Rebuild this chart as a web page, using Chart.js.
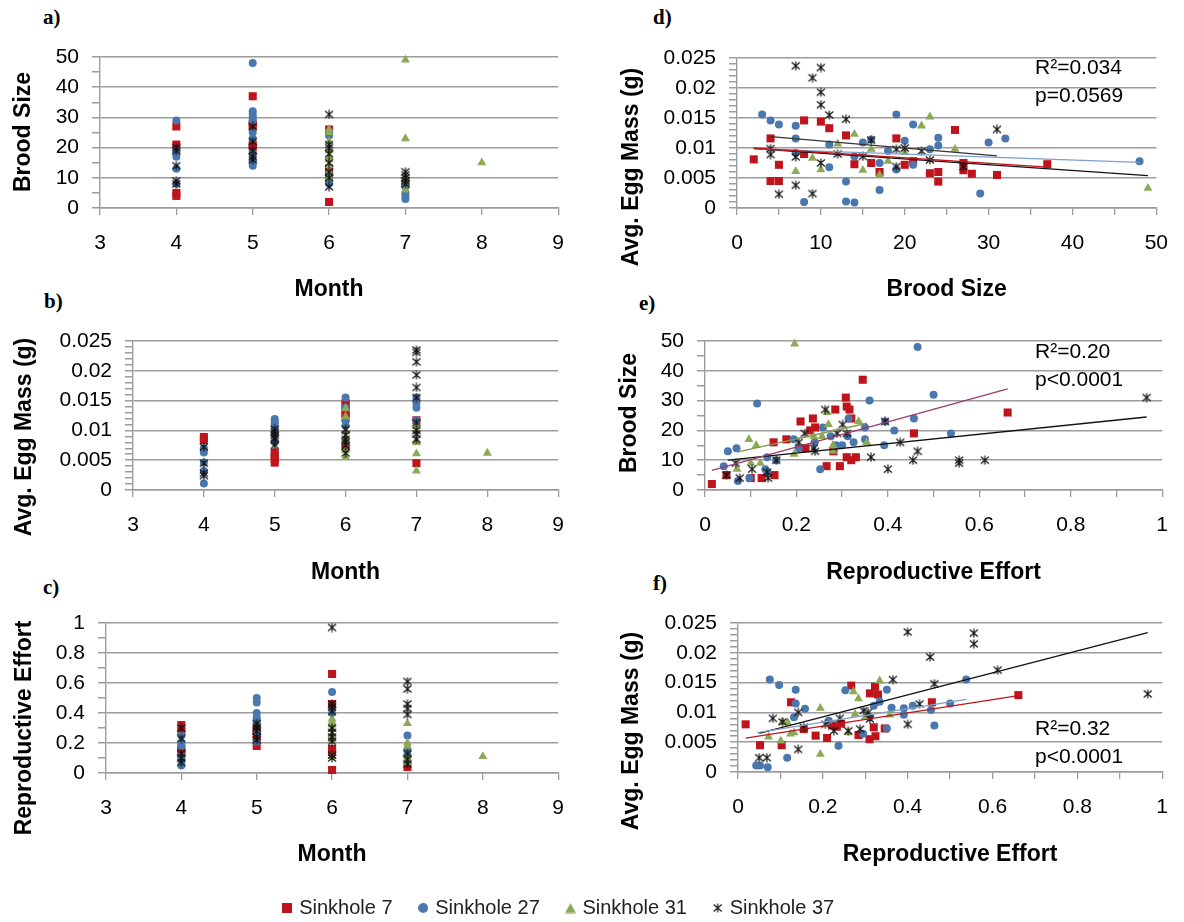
<!DOCTYPE html>
<html>
<head>
<meta charset="utf-8">
<script src="https://cdn.jsdelivr.net/npm/chart.js@4.4.1/dist/chart.umd.min.js"></script>
<style>
  body { margin: 0; background: #fff; width: 1184px; height: 922px; position: relative; overflow: hidden; }
  .pan { position: absolute; }
  .lab { position: absolute; font: bold 21px 'Liberation Serif', 'Times New Roman', serif; color: #000; line-height: 1; }
</style>
</head>
<body>
<div class="lab" style="left:43px;top:7px">a)</div>
<div class="lab" style="left:44px;top:291px">b)</div>
<div class="lab" style="left:43px;top:577px">c)</div>
<div class="lab" style="left:653px;top:7px">d)</div>
<div class="lab" style="left:639px;top:293px">e)</div>
<div class="lab" style="left:653px;top:573px">f)</div>
<script>
// ===== series names / colours =====
const SERIES = ['Sinkhole 7', 'Sinkhole 27', 'Sinkhole 31', 'Sinkhole 37'];
const COLS = ['#c0141c', '#4a78ae', '#8caa56', '#111111'];

// ===== panel a: Month vs Brood Size =====
const a_s7  = [[4,27],[4,21],[4,5],[4,4],[5,37],[5,28],[5,27],[5,21],[5,20],[6,26],[6,13],[6,11],[6,2],[7,8]];
const a_s27 = [[4,29],[4,19],[4,18],[4,17],[4,13],[4,8],[5,48],[5,32],[5,31],[5,30],[5,29],[5,25],[5,23],[5,18],[5,16],[5,15],[5,14],[6,25],[6,24],[6,11],[6,9],[6,8],[7,7],[7,5],[7,4],[7,3]];
const a_s31 = [[6,26],[6,25],[6,22],[6,19],[6,17],[6,16],[6,14],[6,12],[6,10],[7,49],[7,23],[7,10],[7,9],[7,6],[8,15]];
const a_s37 = [[4,20],[4,19],[4,14],[4,9],[4,8],[5,27],[5,22],[5,19],[5,17],[5,16],[6,31],[6,21],[6,20],[6,18],[6,15],[6,12],[6,10],[6,7],[7,12],[7,11],[7,10],[7,9],[7,8]];

// ===== panel b: Month vs Avg. Egg Mass =====
const b_s7  = [[4,0.0089],[4,0.0084],[5,0.0063],[5,0.0058],[5,0.0052],[5,0.0046],[6,0.0146],[6,0.0143],[6,0.0133],[6,0.0129],[6,0.0121],[6,0.0073],[7,0.0117],[7,0.0045]];
const b_s27 = [[4,0.0070],[4,0.0063],[4,0.0046],[4,0.0032],[4,0.0011],[5,0.0119],[5,0.0115],[5,0.0111],[5,0.0105],[5,0.0095],[5,0.0080],[6,0.0155],[6,0.0138],[6,0.0116],[6,0.0108],[7,0.0155],[7,0.0146],[7,0.0138],[7,0.0117]];
const b_s31 = [[6,0.0137],[6,0.0123],[6,0.0098],[6,0.0087],[6,0.0078],[6,0.0066],[6,0.0055],[7,0.0107],[7,0.0098],[7,0.0083],[7,0.0080],[7,0.0061],[7,0.0032],[8,0.0062]];
const b_s37 = [[4,0.0072],[4,0.0045],[4,0.0028],[4,0.0024],[5,0.0102],[5,0.0097],[5,0.0092],[5,0.0088],[5,0.0085],[5,0.0075],[6,0.0102],[6,0.0092],[6,0.0085],[6,0.0080],[6,0.0075],[6,0.0062],[7,0.0235],[7,0.0231],[7,0.0215],[7,0.0193],[7,0.0172],[7,0.0155],[7,0.0113],[7,0.0100],[7,0.0094],[7,0.0085]];

// ===== panel c: Month vs Reproductive Effort =====
const c_s7  = [[4,0.32],[4,0.28],[4,0.16],[4,0.14],[5,0.29],[5,0.26],[5,0.25],[5,0.18],[6,0.66],[6,0.46],[6,0.16],[6,0.14],[6,0.02],[7,0.04]];
const c_s27 = [[4,0.25],[4,0.20],[4,0.18],[4,0.11],[4,0.08],[4,0.05],[5,0.50],[5,0.47],[5,0.40],[5,0.37],[5,0.35],[5,0.27],[5,0.21],[6,0.54],[6,0.40],[7,0.25],[7,0.15],[7,0.12]];
const c_s31 = [[6,0.36],[6,0.34],[6,0.32],[6,0.29],[6,0.25],[6,0.22],[6,0.11],[7,0.33],[7,0.20],[7,0.18],[7,0.10],[7,0.07],[8,0.11]];
const c_s37 = [[4,0.30],[4,0.23],[4,0.13],[4,0.10],[4,0.07],[5,0.33],[5,0.31],[5,0.30],[5,0.28],[5,0.24],[5,0.22],[6,0.97],[6,0.46],[6,0.44],[6,0.41],[6,0.30],[6,0.27],[6,0.24],[6,0.21],[6,0.12],[6,0.10],[7,0.61],[7,0.56],[7,0.46],[7,0.43],[7,0.39],[7,0.13],[7,0.09],[7,0.06]];

// ===== panel d: Brood Size vs Avg. Egg Mass =====
const d_s7  = [[2,0.0081],[4,0.0116],[4,0.0045],[5,0.0045],[5,0.0072],[8,0.0146],[8,0.0090],[10,0.0144],[11,0.0133],[13,0.0121],[14,0.0073],[16,0.0075],[17,0.0060],[19,0.0116],[20,0.0072],[21,0.0078],[23,0.0058],[24,0.0060],[24,0.0044],[26,0.0130],[27,0.0075],[27,0.0063],[28,0.0057],[31,0.0055],[37,0.0073]];
const d_s27 = [[3,0.0156],[4,0.0146],[5,0.0139],[7,0.0137],[7,0.0116],[7,0.0092],[8,0.0010],[11,0.0068],[11,0.0106],[13,0.0044],[13,0.0011],[14,0.0009],[14,0.0086],[15,0.0109],[16,0.0114],[17,0.0030],[17,0.0075],[18,0.0095],[19,0.0156],[19,0.0064],[20,0.0112],[21,0.0139],[21,0.0072],[23,0.0098],[24,0.0117],[24,0.0104],[29,0.0024],[30,0.0109],[32,0.0116],[48,0.0078]];
const d_s31 = [[7,0.0061],[9,0.0083],[10,0.0064],[12,0.0107],[14,0.0123],[15,0.0063],[16,0.0098],[17,0.0055],[18,0.0078],[20,0.0093],[22,0.0137],[23,0.0152],[26,0.0098],[49,0.0033]];
const d_s37 = [[7,0.0237],[10,0.0234],[9,0.0217],[10,0.0193],[10,0.0172],[11,0.0155],[13,0.0148],[4,0.0099],[4,0.0089],[7,0.0085],[7,0.0038],[5,0.0023],[9,0.0024],[10,0.0075],[12,0.0090],[15,0.0086],[16,0.0113],[19,0.0098],[19,0.0069],[20,0.0100],[22,0.0095],[23,0.0080],[27,0.0069],[31,0.0131]];
// trend lines: [x1, y1, x2, y2]
const d_trend_all = [2, 0.0099, 49, 0.0054];
const d_trend_s7  = [2, 0.0100, 37, 0.0068];
const d_trend_s27 = [3, 0.0098, 48, 0.0076];
const d_trend_s37 = [4, 0.0119, 31, 0.0087];

// ===== panel e: Reproductive Effort vs Brood Size =====
const e_s7  = [[0.015,2],[0.047,5],[0.10,4],[0.124,4],[0.152,5],[0.15,16],[0.178,17],[0.209,23],[0.236,24],[0.241,21],[0.23,20],[0.22,14],[0.266,8],[0.285,27],[0.281,13],[0.295,8],[0.308,31],[0.31,28],[0.316,27],[0.32,24],[0.31,11],[0.32,10],[0.33,11],[0.345,37],[0.457,19],[0.662,26]];
const e_s27 = [[0.041,8],[0.05,13],[0.069,14],[0.072,3],[0.097,4],[0.114,29],[0.132,7],[0.136,11],[0.136,6],[0.156,10],[0.194,17],[0.205,14],[0.24,16],[0.252,7],[0.258,21],[0.275,18],[0.287,15],[0.30,15],[0.312,18],[0.314,24],[0.325,16],[0.35,21],[0.35,17],[0.36,30],[0.392,15],[0.394,23],[0.414,20],[0.457,24],[0.465,48],[0.50,32],[0.538,19]];
const e_s31 = [[0.196,49],[0.07,7],[0.096,17],[0.112,15],[0.10,9],[0.121,9],[0.195,12],[0.238,18],[0.256,18],[0.267,26],[0.27,22],[0.28,15],[0.28,13],[0.336,23],[0.354,16]];
const e_s37 = [[0.047,5],[0.067,9],[0.076,4],[0.103,7],[0.136,6],[0.138,4],[0.156,10],[0.205,16],[0.218,19],[0.238,14],[0.241,13],[0.263,27],[0.289,19],[0.301,22],[0.31,19],[0.363,11],[0.394,23],[0.40,7],[0.427,16],[0.455,10],[0.465,13],[0.556,10],[0.556,9],[0.612,10],[0.966,31]];
const e_trend_s7  = [0.015, 6.6, 0.662, 33.9];
const e_trend_s31 = [0.07, 12.7, 0.354, 22.4];
const e_trend_s37 = [0.05, 10.0, 0.966, 24.5];

// ===== panel f: Reproductive Effort vs Avg. Egg Mass =====
const f_s7  = [[0.018,0.0080],[0.052,0.0045],[0.103,0.0045],[0.125,0.0117],[0.155,0.0072],[0.183,0.0061],[0.21,0.0057],[0.222,0.0078],[0.233,0.0076],[0.243,0.0081],[0.267,0.0145],[0.284,0.0062],[0.31,0.0055],[0.311,0.0132],[0.323,0.0143],[0.33,0.0130],[0.32,0.0075],[0.324,0.0060],[0.346,0.0073],[0.457,0.0117],[0.661,0.0129]];
const f_s27 = [[0.043,0.0011],[0.052,0.0011],[0.07,0.0008],[0.075,0.0155],[0.097,0.0146],[0.116,0.0024],[0.136,0.0138],[0.136,0.0115],[0.132,0.0092],[0.158,0.0106],[0.214,0.0086],[0.237,0.0044],[0.253,0.0137],[0.295,0.0064],[0.31,0.0092],[0.32,0.0111],[0.334,0.0118],[0.351,0.0138],[0.351,0.0073],[0.362,0.0108],[0.391,0.0107],[0.391,0.0096],[0.412,0.0111],[0.455,0.0104],[0.463,0.0078],[0.50,0.0115],[0.538,0.0155]];
const f_s31 = [[0.072,0.0059],[0.101,0.0052],[0.105,0.0084],[0.117,0.0083],[0.124,0.0064],[0.132,0.0066],[0.194,0.0030],[0.194,0.0107],[0.26,0.0066],[0.272,0.0135],[0.284,0.0123],[0.276,0.0097],[0.30,0.0092],[0.334,0.0153],[0.358,0.0096]];
const f_s37 = [[0.05,0.0024],[0.068,0.0024],[0.082,0.0090],[0.105,0.0084],[0.142,0.0100],[0.142,0.0038],[0.155,0.0075],[0.206,0.0080],[0.226,0.0069],[0.24,0.0090],[0.26,0.0069],[0.288,0.0072],[0.296,0.0103],[0.307,0.0100],[0.311,0.0089],[0.365,0.0155],[0.40,0.0235],[0.40,0.0080],[0.428,0.0114],[0.453,0.0193],[0.463,0.0148],[0.556,0.0233],[0.556,0.0215],[0.612,0.0171],[0.966,0.0131]];
const f_trend_s7  = [0.018, 0.0057, 0.661, 0.0128];
const f_trend_s27 = [0.045, 0.0066, 0.538, 0.0122];
const f_trend_s37 = [0.05, 0.0065, 0.966, 0.0234];

// ===== stats text =====
const d_stats = ['R²=0.034', 'p=0.0569'];
const e_stats = ['R²=0.20', 'p<0.0001'];
const f_stats = ['R²=0.32', 'p<0.0001'];

// ================= STYLE =================
const FONT = "'Liberation Sans', Arial, sans-serif";
const GRID = '#9c9c9c';

// marker gambar kecil (bintang ala Excel + ikon legend)
function makeMarker(kind, color, s) {
    const c = document.createElement('canvas');
    c.width = s; c.height = s;
    const g = c.getContext('2d');
    g.fillStyle = color; g.strokeStyle = color;
    if (kind === 'rect') g.fillRect(0, 0, s, s);
    if (kind === 'circle') { g.beginPath(); g.arc(s/2, s/2, s/2, 0, Math.PI*2); g.fill(); }
    if (kind === 'tri') { g.beginPath(); g.moveTo(s/2, 0.5); g.lineTo(s, s-0.5); g.lineTo(0, s-0.5); g.closePath(); g.fill(); }
    if (kind === 'star') {
        g.lineWidth = 1.15;
        g.beginPath();
        g.moveTo(1, 1.5); g.lineTo(s-1, s-1.5);
        g.moveTo(s-1, 1.5); g.lineTo(1, s-1.5);
        g.moveTo(s/2, 0.5); g.lineTo(s/2, s-0.5);
        g.stroke();
    }
    return c;
}
const STAR = makeMarker('star', '#111', 10);
const STYLES = ['rect', 'circle', 'triangle', STAR];
const RADII  = [5.7, 4, 5.2, 5];

const isMul = (v, m) => Math.abs(v / m - Math.round(v / m)) < 1e-6;
const fmt = v => String(+v.toFixed(4));

// plugin: judul sumbu Y + teks statistik
const panelText = {
    id: 'panelText',
    afterDraw(chart, args, o) {
        const ctx = chart.ctx;
        ctx.save();
        ctx.fillStyle = '#000';
        ctx.font = 'bold 23px ' + FONT;
        ctx.textAlign = 'center'; ctx.textBaseline = 'middle';
        ctx.translate(o.yTitlePos[0], o.yTitlePos[1]);
        ctx.rotate(-Math.PI / 2);
        ctx.fillText(o.yTitle, 0, 0);
        ctx.restore();
        if (o.stats) {
            ctx.save();
            ctx.fillStyle = '#000';
            ctx.font = '21px ' + FONT;
            ctx.textAlign = 'left'; ctx.textBaseline = 'middle';
            o.stats.forEach((t, i) => ctx.fillText(t, o.statsPos[0], o.statsPos[1] + i * 28));
            ctx.restore();
        }
    }
};

function xScale(p) {
    return {
        type: 'linear', position: 'bottom', min: p.x[0], max: p.x[1],
        afterFit: s => { s.height = p.xh; },
        border: { color: GRID, width: 1.4 },
        grid: { drawOnChartArea: false, color: GRID, tickColor: GRID, tickLength: 7, lineWidth: 1.3 },
        ticks: {
            stepSize: p.x[2], autoSkip: false, maxRotation: 0, padding: 16,
            color: '#000', font: { size: 21, family: FONT },
            callback: v => isMul(v, p.x[3]) ? fmt(v) : ''
        },
        title: { display: true, text: p.xTitle, color: '#000', font: { size: 23, weight: 'bold', family: FONT }, padding: { top: 0, bottom: p.tb } }
    };
}

function yScale(p) {
    return {
        type: 'linear', min: p.y[0], max: p.y[1],
        afterFit: s => { s.width = p.yw; },
        border: { color: GRID, width: 1.4 },
        grid: {
            color: c => (c.tick && isMul(c.tick.value, p.y[3])) ? GRID : 'rgba(0,0,0,0)',
            tickColor: GRID, tickLength: 8, lineWidth: 1.5
        },
        ticks: {
            stepSize: p.y[2], autoSkip: false, padding: 13,
            color: '#000', font: { size: 21, family: FONT },
            callback: v => isMul(v, p.y[3]) ? fmt(v) : ''
        }
    };
}

function trend(t, color) {
    return {
        label: '', data: [{ x: t[0], y: t[1] }, { x: t[2], y: t[3] }],
        showLine: true, borderColor: color, borderWidth: 1.3, pointRadius: 0, order: 0, clip: false
    };
}

function makePanel(p) {
    const div = document.createElement('div');
    div.className = 'pan';
    div.style.left = p.box[0] + 'px'; div.style.top = p.box[1] + 'px';
    const cv = document.createElement('canvas');
    cv.width = p.box[2]; cv.height = p.box[3];
    div.appendChild(cv);
    document.body.appendChild(div);

    const sets = p.series.map((d, i) => ({
        label: SERIES[i],
        data: d.map(([x, y]) => ({ x, y })),
        pointStyle: STYLES[i], pointRadius: RADII[i], pointBorderWidth: 0,
        backgroundColor: COLS[i], borderColor: COLS[i],
        order: 4 - i, clip: false
    }));
    (p.trends || []).forEach(t => sets.push(trend(t[0], t[1])));

    new Chart(cv, {
        type: 'scatter',
        data: { datasets: sets },
        options: {
            responsive: false, animation: false, devicePixelRatio: 1,
            layout: { padding: { top: p.pad[0], right: p.pad[1], left: 0, bottom: 0 } },
            plugins: {
                legend: { display: false }, tooltip: { enabled: false },
                panelText: { yTitle: p.yTitle, yTitlePos: p.yTitlePos, stats: p.stats, statsPos: p.statsPos }
            },
            scales: { x: xScale(p), y: yScale(p) }
        },
        plugins: [panelText]
    });
}

// ================= PANELS =================
makePanel({ box: [0, 30, 580, 275], pad: [27, 18], yw: 100, xh: 97, tb: 2,
    x: [3, 9, 1, 1], y: [0, 50, 5, 10], xTitle: 'Month', yTitle: 'Brood Size', yTitlePos: [24, 102],
    series: [a_s7, a_s27, a_s31, a_s37] });

makePanel({ box: [0, 312, 580, 275], pad: [29, 15], yw: 133, xh: 97, tb: 1,
    x: [3, 9, 1, 1], y: [0, 0.025, 0.001, 0.005], xTitle: 'Month', yTitle: 'Avg. Egg Mass (g)', yTitlePos: [25, 125],
    series: [b_s7, b_s27, b_s31, b_s37] });

makePanel({ box: [0, 595, 580, 275], pad: [28, 16], yw: 106, xh: 97, tb: 2,
    x: [3, 9, 1, 1], y: [0, 1, 0.1, 0.2], xTitle: 'Month', yTitle: 'Reproductive Effort', yTitlePos: [25, 133],
    series: [c_s7, c_s27, c_s31, c_s37] });

makePanel({ box: [590, 30, 594, 275], pad: [28, 22], yw: 147, xh: 97, tb: 2,
    x: [0, 50, 5, 10], y: [0, 0.025, 0.001, 0.005], xTitle: 'Brood Size', yTitle: 'Avg. Egg Mass (g)', yTitlePos: [42, 137],
    stats: d_stats, statsPos: [445, 38],
    series: [d_s7, d_s27, d_s31, d_s37],
    trends: [[d_trend_s7, '#c0141c'], [d_trend_s27, '#7f9fc8'], [d_trend_all, '#111'], [d_trend_s37, '#333']] });

makePanel({ box: [590, 312, 594, 275], pad: [29, 18], yw: 115, xh: 97, tb: 1,
    x: [0, 1, 0.1, 0.2], y: [0, 50, 5, 10], xTitle: 'Reproductive Effort', yTitle: 'Brood Size', yTitlePos: [40, 101],
    stats: e_stats, statsPos: [445, 40],
    series: [e_s7, e_s27, e_s31, e_s37],
    trends: [[e_trend_s31, '#7f9a50'], [e_trend_s7, '#9b3b6e'], [e_trend_s37, '#111']] });

makePanel({ box: [590, 595, 594, 275], pad: [28, 18], yw: 148, xh: 98, tb: 2,
    x: [0, 1, 0.1, 0.2], y: [0, 0.025, 0.001, 0.005], xTitle: 'Reproductive Effort', yTitle: 'Avg. Egg Mass (g)', yTitlePos: [42, 136],
    stats: f_stats, statsPos: [445, 134],
    series: [f_s7, f_s27, f_s31, f_s37],
    trends: [[f_trend_s27, '#7f9fc8'], [f_trend_s7, '#c0141c'], [f_trend_s37, '#111']] });

// ================= LEGEND =================
// kanvas dibuat tinggi supaya legend tidak terpotong (batas maxHeight = setengah tinggi kanvas)
const LEG_IMG = [makeMarker('rect', COLS[0], 10), makeMarker('circle', COLS[1], 10), makeMarker('tri', COLS[2], 11), makeMarker('star', '#111', 10)];
const lgDiv = document.createElement('div');
lgDiv.className = 'pan'; lgDiv.style.left = '-24px'; lgDiv.style.top = '886px';
const lgCv = document.createElement('canvas');
lgCv.width = 1184; lgCv.height = 110;
lgDiv.appendChild(lgCv); document.body.appendChild(lgDiv);
new Chart(lgCv, {
    type: 'scatter',
    data: { datasets: SERIES.map((s, i) => ({ label: s, data: [], pointStyle: LEG_IMG[i], backgroundColor: COLS[i], borderColor: COLS[i] })) },
    options: {
        responsive: false, animation: false, devicePixelRatio: 1,
        layout: { padding: 0 },
        scales: { x: { display: false }, y: { display: false } },
        plugins: {
            tooltip: { enabled: false },
            legend: { display: true, position: 'top',
                labels: { usePointStyle: true, boxWidth: 4, padding: 12, color: '#222', font: { size: 20, family: FONT },
                    // jarak antar item diperlebar lewat spasi di akhir label
                    generateLabels: ch => Chart.defaults.plugins.legend.labels.generateLabels(ch).map(l => ({ ...l, text: l.text + '   ' })) } }
        }
    }
});
</script>
</body>
</html>
